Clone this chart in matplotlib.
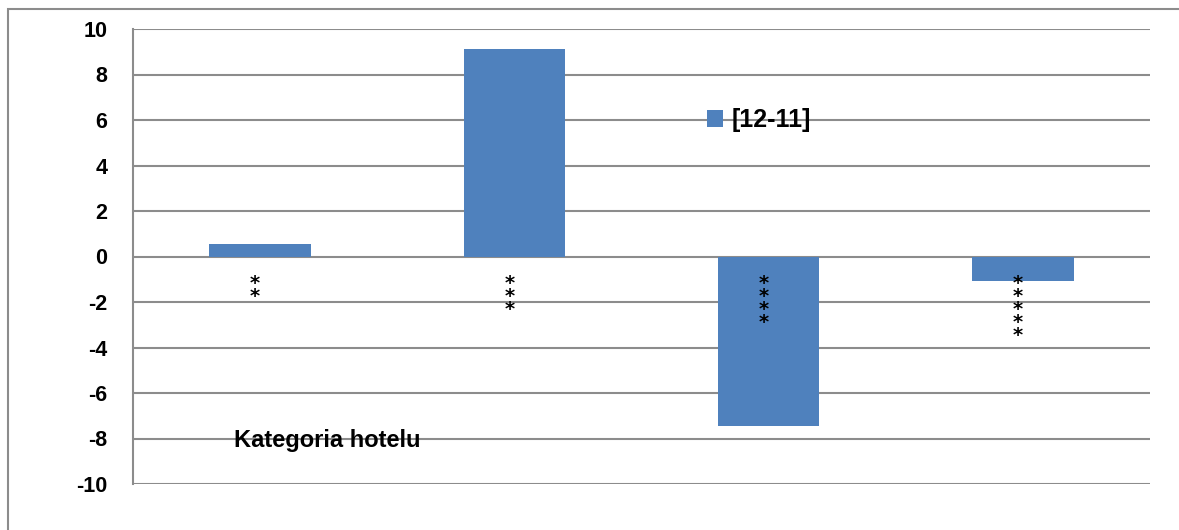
import matplotlib.pyplot as plt
from matplotlib.patches import Rectangle

# dane
kategorie = ['**', '***', '****', '*****']
wartosci = [0.57, 9.1, -7.47, -1.08]
seria = '[12-11]'
tytul_osi = 'Kategoria hotelu'
y_ticks = list(range(-10, 11, 2))

plt.rcParams['font.family'] = ['Liberation Sans', 'DejaVu Sans']

fig = plt.figure(figsize=(11.79, 5.30), dpi=100)
W, H = 1179, 530

# ramka wykresu (widoczna tylko z lewej i u gory)
fig.patches.append(Rectangle((8 / W, -0.1), 1.2, (530 - 9) / H + 0.1,
                             transform=fig.transFigure, fill=False,
                             edgecolor='#8c8c8c', linewidth=1.5))

ax = fig.add_axes([133 / W, 1 - 484 / H, (1150 - 133) / W, (484 - 29) / H])

x = list(range(len(kategorie)))
ax.bar(x, wartosci, width=0.4, color='#4f81bd', zorder=3, label=seria)

ax.set_xlim(-0.5, len(kategorie) - 0.5)
ax.set_ylim(-10, 10)
ax.set_yticks(y_ticks)
ax.set_yticklabels([str(v) for v in y_ticks], fontsize=15.5, fontweight='bold')
ax.tick_params(axis='y', length=0, pad=18.5)
ax.set_xticks([])
ax.grid(axis='y', color='#8c8c8c', linewidth=1.5, zorder=1)
for s in ['top', 'right', 'bottom']:
    ax.spines[s].set_visible(False)
ax.spines['left'].set_color('#8c8c8c')
ax.spines['left'].set_linewidth(1.5)

# etykiety kategorii - gwiazdki pionowo pod zerem
for i, k in enumerate(kategorie):
    ax.text(i - 0.02, -0.75, '\n'.join(k), ha='center', va='top', fontsize=14,
            fontfamily='DejaVu Sans', fontweight='bold', linespacing=0.6, zorder=4)

ax.text(0.263, -8.1, tytul_osi, transform=ax.transData, ha='center', va='center',
        fontsize=17, fontweight='bold', zorder=4)

leg = ax.legend(loc='center left', bbox_to_anchor=(564 / 1017, 0.8), frameon=False,
                prop={'size': 18, 'weight': 'bold'}, handlelength=0.65, handleheight=0.65,
                handletextpad=0.35, borderaxespad=0)

fig.savefig('out.png', dpi=100)
